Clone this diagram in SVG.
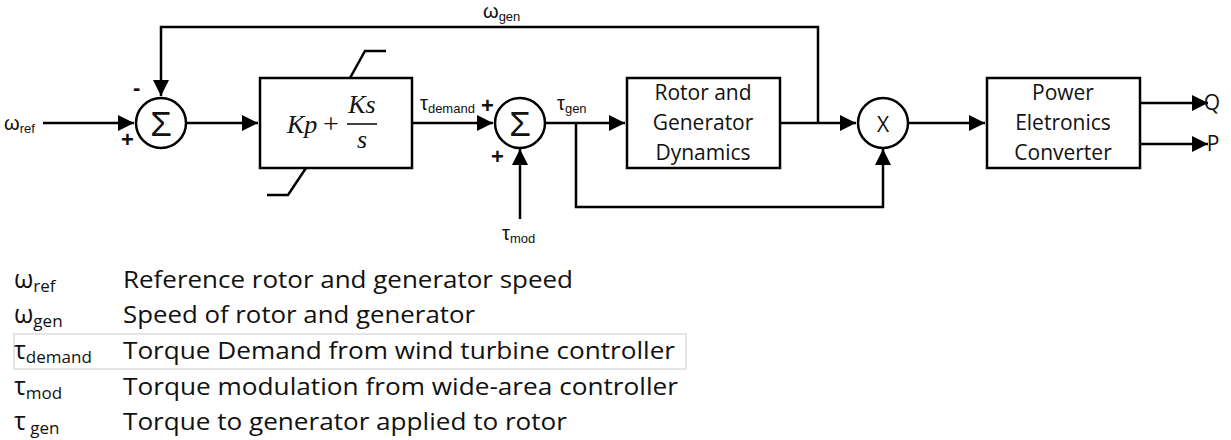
<svg xmlns="http://www.w3.org/2000/svg" width="1231" height="440" viewBox="0 0 1231 440">
<style>
.ln{fill:none;stroke:#000;stroke-width:2.5}
.bx{fill:#fff;stroke:#000;stroke-width:2.5}
.t{font-family:"Liberation Sans",Arial,sans-serif;fill:#111}
.bt{font-family:"Open Sans","Liberation Sans",Arial,sans-serif;font-size:21px;fill:#111;text-anchor:middle}
.lg{font-family:"Open Sans","Liberation Sans",Arial,sans-serif;font-size:24px;fill:#111}
.ls{font-family:"Open Sans","Liberation Sans",Arial,sans-serif;font-size:25px;fill:#111}
.m{font-family:"Liberation Serif","Times New Roman",serif;font-style:italic;font-size:26px;fill:#111}
.sg{font-family:"Liberation Sans",Arial,sans-serif;font-weight:bold;font-size:22px;fill:#111}
</style>
<defs>
<marker id="ah" markerUnits="userSpaceOnUse" markerWidth="16" markerHeight="16" refX="16" refY="8" orient="auto">
<path d="M0,0 L16,8 L0,16 z" fill="#000"/>
</marker>
</defs>
<rect x="14" y="334" width="672" height="35" fill="none" stroke="#d4d4d4" stroke-width="1.2"/>
<g id="connectors">
<path class="ln" d="M43,123 H134" marker-end="url(#ah)"/>
<path class="ln" d="M818,123 V27 H161 V96" marker-end="url(#ah)"/>
<path class="ln" d="M186,123 H258" marker-end="url(#ah)"/>
<path class="ln" d="M412,123 H493" marker-end="url(#ah)"/>
<path class="ln" d="M520,219 V149" marker-end="url(#ah)"/>
<path class="ln" d="M545,123 H625" marker-end="url(#ah)"/>
<path class="ln" d="M780,123 H856" marker-end="url(#ah)"/>
<path class="ln" d="M576,123 V207 H883 V149" marker-end="url(#ah)"/>
<path class="ln" d="M908,123 H985" marker-end="url(#ah)"/>
<path class="ln" d="M1140,103 H1208" marker-end="url(#ah)"/>
<path class="ln" d="M1140,144 H1208" marker-end="url(#ah)"/>
</g>
<g id="sum1">
<circle cx="161" cy="123" r="25" class="bx"/>
<text x="161" y="136" class="t" font-size="35" text-anchor="middle">Σ</text>
</g>
<g id="pi">
<rect x="260" y="78" width="152" height="90" class="bx"/>
<path class="ln" d="M350,78 L365,51 H386"/>
<path class="ln" d="M306,168 L288,195 H267"/>
<text x="287" y="133" class="m">Kp</text>
<text x="323" y="133" font-family="Liberation Serif,serif" font-size="28" fill="#111">+</text>
<text x="362" y="113" class="m" text-anchor="middle">Ks</text>
<line x1="347" y1="124" x2="377" y2="124" stroke="#000" stroke-width="1.5"/>
<text x="362" y="148" class="m" text-anchor="middle">s</text>
</g>
<g id="sum2">
<circle cx="520" cy="123" r="25" class="bx"/>
<text x="520" y="136" class="t" font-size="35" text-anchor="middle">Σ</text>
</g>
<g id="rotor">
<rect x="627" y="78" width="153" height="90" class="bx"/>
<text x="703" y="100" class="bt">Rotor and</text>
<text x="703" y="130" class="bt">Generator</text>
<text x="703" y="160" class="bt">Dynamics</text>
</g>
<g id="mult">
<circle cx="883" cy="123" r="25" class="bx"/>
<text x="883" y="132" class="bt" font-size="24">X</text>
</g>
<g id="pec">
<rect x="987" y="78" width="153" height="90" class="bx"/>
<text x="1063" y="100" class="bt">Power</text>
<text x="1063" y="130" class="bt">Eletronics</text>
<text x="1063" y="160" class="bt">Converter</text>
</g>
<g id="labels">
<text x="4" y="130" class="t" font-size="20">ω<tspan font-size="13" dy="3">ref</tspan></text>
<text x="483" y="18" class="t" font-size="20">ω<tspan font-size="13" dy="3">gen</tspan></text>
<text x="420" y="110" class="t" font-size="20">τ<tspan font-size="13" dy="3">demand</tspan></text>
<text x="557" y="110" class="t" font-size="20">τ<tspan font-size="13" dy="3">gen</tspan></text>
<text x="502" y="240" class="t" font-size="20">τ<tspan font-size="13" dy="3">mod</tspan></text>
<text x="1212" y="110" class="bt" font-size="18" text-anchor="start">Q</text>
<text x="1213" y="151" class="bt" font-size="18" text-anchor="start">P</text>
<text x="133" y="95" class="sg">-</text>
<text x="121" y="147" class="sg">+</text>
<text x="481" y="113" class="sg">+</text>
<text x="491" y="164" class="sg">+</text>
</g>
<g id="legend">
<text x="14" y="288" class="ls">ω<tspan font-size="17" dy="4">ref</tspan></text>
<text x="123" y="288" class="lg" textLength="450" lengthAdjust="spacingAndGlyphs">Reference rotor and generator speed</text>
<text x="14" y="323" class="ls">ω<tspan font-size="17" dy="4">gen</tspan></text>
<text x="123" y="323" class="lg" textLength="352" lengthAdjust="spacingAndGlyphs">Speed of rotor and generator</text>
<text x="14" y="359" class="ls">τ<tspan font-size="17" dy="4">demand</tspan></text>
<text x="123" y="359" class="lg" textLength="552" lengthAdjust="spacingAndGlyphs">Torque Demand from wind turbine controller</text>
<text x="14" y="395" class="ls">τ<tspan font-size="17" dy="4">mod</tspan></text>
<text x="123" y="395" class="lg" textLength="555" lengthAdjust="spacingAndGlyphs">Torque modulation from wide-area controller</text>
<text x="14" y="430" class="ls">τ<tspan font-size="17" dy="4"> gen</tspan></text>
<text x="123" y="430" class="lg" textLength="444" lengthAdjust="spacingAndGlyphs">Torque to generator applied to rotor</text>
</g>
</svg>
